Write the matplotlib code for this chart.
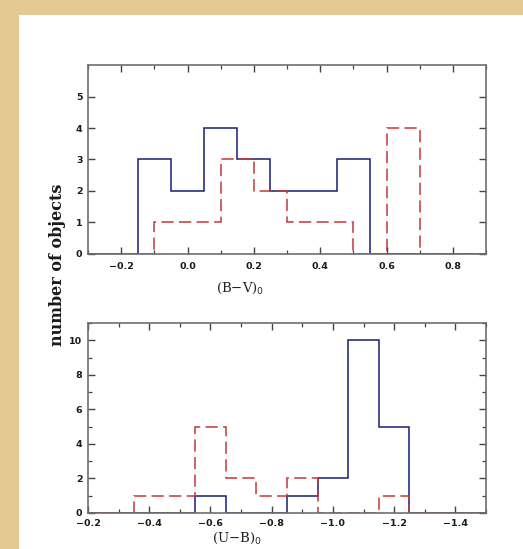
import numpy as np
import matplotlib
matplotlib.use("Agg")
import matplotlib.pyplot as plt
from matplotlib.patches import Rectangle
from matplotlib.ticker import MultipleLocator

# ---- data ----
bv_blue_edges = [-0.35, -0.25, -0.15, -0.05, 0.05, 0.15, 0.25, 0.35, 0.45, 0.55, 0.65, 0.75, 0.85, 0.95]
bv_blue_counts = [0, 0, 3, 2, 4, 3, 2, 2, 3, 0, 0, 0, 0]
bv_red_edges = [-0.3, -0.2, -0.1, 0.0, 0.1, 0.2, 0.3, 0.4, 0.5, 0.6, 0.7, 0.8, 0.9]
bv_red_counts = [0, 0, 1, 1, 3, 2, 1, 1, 0, 4, 0, 0]

ub_edges = [-0.15, -0.25, -0.35, -0.45, -0.55, -0.65, -0.75, -0.85, -0.95, -1.05, -1.15, -1.25, -1.35, -1.45, -1.55]
ub_blue_counts = [0, 0, 0, 0, 1, 0, 0, 1, 2, 10, 5, 0, 0, 0]
ub_red_counts = [0, 0, 1, 1, 5, 2, 1, 2, 0, 0, 1, 0, 0, 0]

bv_xticks = [-0.2, 0.0, 0.2, 0.4, 0.6, 0.8]
ub_xticks = [-0.2, -0.4, -0.6, -0.8, -1.0, -1.2, -1.4]

BLUE = "#1a1c78"
RED = "#c83737"
SPINE = "#6e6e6e"
TAN = "#e4ca90"

fig = plt.figure(figsize=(5.23, 5.49), dpi=100, facecolor=TAN)
fig.patches.append(Rectangle((19 / 523, 0), 1, 1 - 15 / 549, transform=fig.transFigure,
                             facecolor="white", edgecolor="none", zorder=-10))

def style(ax):
    for s in ax.spines.values():
        s.set_color(SPINE)
        s.set_linewidth(1.2)
    ax.tick_params(which="both", direction="in", top=True, right=True,
                   color="#444444", labelsize=6.8, labelcolor="#1a1a1a", pad=4)
    ax.tick_params(which="major", length=5, width=1.0)
    ax.tick_params(which="minor", length=3, width=0.9)
    for lab in ax.get_xticklabels() + ax.get_yticklabels():
        lab.set_fontweight("bold")
    ax.set_facecolor("none")

dash = (0, (8, 3.5))

ax1 = fig.add_axes([88 / 523, 1 - 254 / 549, 398 / 523, 189 / 549])
ax1.stairs(bv_blue_counts, bv_blue_edges, color=BLUE, lw=1.1)
ax1.stairs(bv_red_counts, bv_red_edges, color=RED, lw=1.1, linestyle=dash)
ax1.set_xlim(-0.3, 0.9)
ax1.set_ylim(0, 6)
ax1.set_xticks(bv_xticks)
ax1.set_xticklabels([f"{v:.1f}".replace("-", "\u2212") for v in bv_xticks])
ax1.xaxis.set_minor_locator(MultipleLocator(0.1))
ax1.set_yticks([0, 1, 2, 3, 4, 5])
style(ax1)
ax1.tick_params(axis="x", pad=6)

ax2 = fig.add_axes([88 / 523, 1 - 513 / 549, 398 / 523, 190 / 549])
e = np.array(ub_edges)[::-1]
ax2.stairs(np.array(ub_blue_counts)[::-1], e, color=BLUE, lw=1.1)
ax2.stairs(np.array(ub_red_counts)[::-1], e, color=RED, lw=1.1, linestyle=dash)
ax2.set_xlim(-0.2, -1.5)
ax2.set_ylim(0, 11)
ax2.set_xticks(ub_xticks)
ax2.set_xticklabels([f"{v:.1f}".replace("-", "\u2212") for v in ub_xticks])
ax2.xaxis.set_minor_locator(MultipleLocator(0.1))
ax2.set_yticks([0, 2, 4, 6, 8, 10])
ax2.yaxis.set_minor_locator(MultipleLocator(1))
style(ax2)
ax2.tick_params(axis="x", pad=4.5)

fig.text(240 / 523, 1 - 288 / 549, r"(B$-$V)$_0$", ha="center", va="center",
         fontsize=9.5, family="DejaVu Serif", color="#222222")
fig.text(237 / 523, 1 - 538 / 549, r"(U$-$B)$_0$", ha="center", va="center",
         fontsize=9.5, family="DejaVu Serif", color="#222222")
fig.text(58 / 523, 1 - 265 / 549, "number of objects", rotation=90, ha="center", va="center",
         fontsize=11.5, family="DejaVu Serif", fontweight="bold", color="#1a1a1a")

fig.savefig("out.png", dpi=100, facecolor=TAN)
